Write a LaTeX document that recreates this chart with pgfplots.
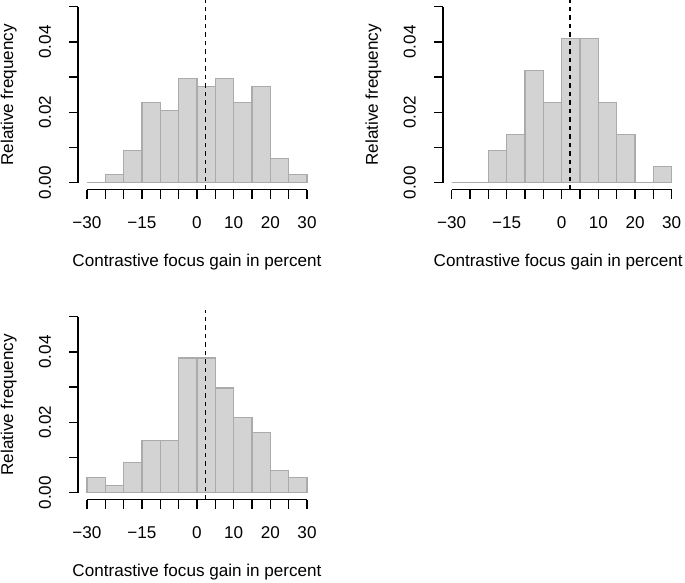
\documentclass[border=0pt]{standalone}
\usepackage{pgfplots}
\pgfplotsset{compat=1.18}
\usepackage{fontspec}
\setmainfont{Liberation Sans}
\definecolor{barfill}{HTML}{D3D3D3}
\definecolor{barline}{HTML}{ABABAB}
\pgfplotsset{
  rhist/.style={
    scale only axis, width=237.6pt, height=190pt,
    xmin=-32.4, xmax=32.4, ymin=-0.002, ymax=0.052,
    clip=false, scaled y ticks=false, scaled x ticks=false,
    axis x line*=bottom, axis y line*=left,
    axis line style={draw=none},
    xtick={-30,-25,-20,-15,-10,-5,0,5,10,15,20,25,30},
    xticklabels={−30,,,−15,,,0,,10,,20,,30},
    ytick={0,0.01,0.02,0.03,0.04,0.05},
    yticklabels={0.00,,0.02,,0.04,},
    tick align=outside, major tick length=9pt,
    tick style={black, line width=1.5pt},
    font=\fontsize{17.1}{20}\selectfont,
    xticklabel style={yshift=-17.3pt, inner sep=0pt, anchor=north, text height=12.3pt, text depth=0pt},
    yticklabel style={xshift=-18pt, rotate=90, inner sep=0pt, anchor=south, text height=12.3pt, text depth=0pt},
    xlabel={Contrastive focus gain in percent},
    ylabel={Relative frequency},
    xlabel style={at={(axis description cs:0.5,-0.3826)}, anchor=center, inner sep=0pt},
    ylabel style={at={(axis description cs:-0.2925,0.5)}, anchor=center, inner sep=0pt},
  },
  bars/.style={ybar interval, fill=barfill, draw=barline, line width=1.3pt},
  vline/.style={black, line width=1.5pt, dash pattern=on 4.5pt off 4pt},
}
\newcommand{\raxes}{%
  \draw[line width=1.5pt] (axis cs:-30,-0.002) -- (axis cs:30,-0.002);
  \draw[line width=1.5pt] (axis cs:-32.4,0) -- (axis cs:-32.4,0.05);
}
\begin{document}
\begin{tikzpicture}
\useasboundingbox (0,0) rectangle (685pt,582pt);
% Panel 1
\begin{axis}[rhist, at={(78.2pt,392.3pt)}, anchor=south west]
\addplot[bars] coordinates {
(-30,0) (-25,0.002273) (-20,0.009091) (-15,0.022727) (-10,0.020455) (-5,0.029545)
(0,0.027273) (5,0.029545) (10,0.022727) (15,0.027273) (20,0.006818) (25,0.002273) (30,0.002273)};
\addplot[vline] coordinates {(2.3,-0.002) (2.3,0.052)};
\raxes
\end{axis}
% Panel 2
\begin{axis}[rhist, at={(442.9pt,392.3pt)}, anchor=south west,
  xlabel style={xshift=-3.5pt}]
\addplot[bars] coordinates {
(-30,0) (-25,0) (-20,0.009091) (-15,0.013636) (-10,0.031818) (-5,0.022727)
(0,0.040909) (5,0.040909) (10,0.022727) (15,0.013636) (20,0) (25,0.004545) (30,0.004545)};
\addplot[vline] coordinates {(2.3,-0.002) (2.3,0.052)};
\raxes
\end{axis}
% Panel 3
\begin{axis}[rhist, at={(78.2pt,82.3pt)}, anchor=south west]
\addplot[bars] coordinates {
(-30,0.004255) (-25,0.002128) (-20,0.008511) (-15,0.014894) (-10,0.014894) (-5,0.038298)
(0,0.038298) (5,0.029787) (10,0.021277) (15,0.017021) (20,0.006383) (25,0.004255) (30,0.004255)};
\addplot[vline] coordinates {(2.3,-0.002) (2.3,0.052)};
\raxes
\end{axis}
\end{tikzpicture}
\end{document}
